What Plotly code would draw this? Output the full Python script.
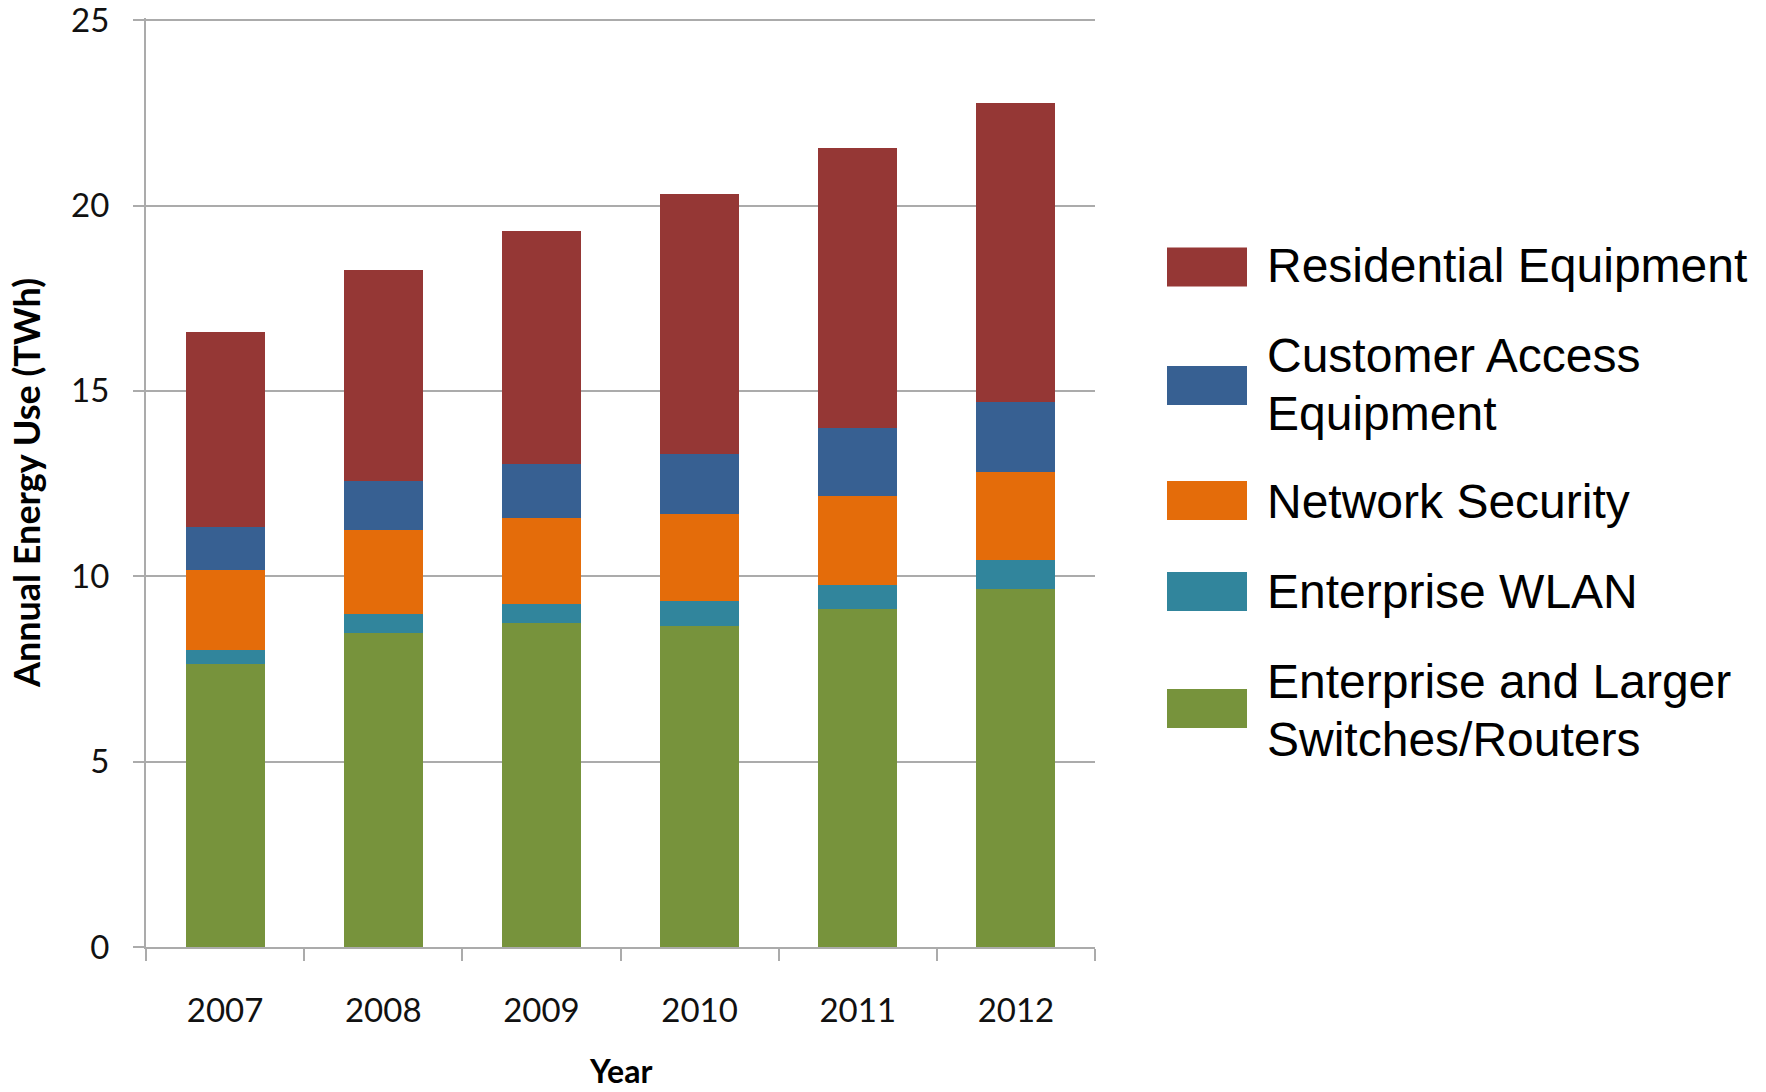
import plotly.graph_objects as go

years = ["2007", "2008", "2009", "2010", "2011", "2012"]
switches_routers = [7.63, 8.47, 8.73, 8.66, 9.13, 9.66]
enterprise_wlan = [0.39, 0.51, 0.52, 0.67, 0.64, 0.77]
network_security = [2.15, 2.27, 2.33, 2.35, 2.40, 2.38]
customer_access = [1.17, 1.31, 1.46, 1.62, 1.84, 1.89]
residential = [5.25, 5.70, 6.27, 7.01, 7.54, 8.07]

series_names = ["Enterprise and Larger Switches/Routers", "Enterprise WLAN",
                "Network Security", "Customer Access Equipment", "Residential Equipment"]
series_values = [switches_routers, enterprise_wlan, network_security, customer_access, residential]
series_colors = ["#77933C", "#31859C", "#E46C0A", "#376092", "#953735"]

y_ticks = [0, 5, 10, 15, 20, 25]
x_title = "Year"
y_title = "Annual Energy Use (TWh)"

# legend (top to bottom), with line breaks as in the reference
legend_lines = [
    ["Residential Equipment"],
    ["Customer Access", "Equipment"],
    ["Network Security"],
    ["Enterprise WLAN"],
    ["Enterprise and Larger", "Switches/Routers"],
]
legend_colors = ["#953735", "#376092", "#E46C0A", "#31859C", "#77933C"]

W, H = 1766, 1092
L, R, T, B = 146, 1095, 18, 947  # plot area in pixels

fig = go.Figure()
for name, vals, col in zip(series_names, series_values, series_colors):
    fig.add_trace(go.Bar(x=years, y=vals, name=name, marker=dict(color=col, line=dict(width=0)),
                         showlegend=False))

def px_x(p):
    return (p - L) / (R - L)

def px_y(p):
    return (B - p) / (B - T)

# custom legend
swatch_centers = [267, 385.5, 500.5, 591.5, 708.5]
line_centers = [[265], [355, 413], [501], [591], [681, 739]]
shapes = []
annotations = []
for lines, col, sc, lc in zip(legend_lines, legend_colors, swatch_centers, line_centers):
    shapes.append(dict(type="rect", xref="paper", yref="paper",
                       x0=px_x(1167), x1=px_x(1247), y0=px_y(sc + 19.5), y1=px_y(sc - 19.5),
                       fillcolor=col, line=dict(width=0)))
    for txt, yc in zip(lines, lc):
        annotations.append(dict(text=txt, xref="paper", yref="paper", x=px_x(1265), y=px_y(yc),
                                xanchor="left", yanchor="middle", showarrow=False,
                                font=dict(family="Liberation Sans, Arial", size=48, color="black")))

# x-axis title
annotations.append(dict(text="<b>%s</b>" % x_title, xref="paper", yref="paper", x=0.5, y=px_y(1091),
                        xanchor="center", yanchor="bottom", showarrow=False, borderpad=0,
                        font=dict(family="Lato", size=32, color="black")))

grid_col = "#ababab"
fig.update_layout(
    width=W, height=H,
    margin=dict(l=L, r=W - R, t=T, b=H - B, pad=0, autoexpand=False),
    barmode="stack", bargap=0.5,
    plot_bgcolor="white", paper_bgcolor="white",
    font=dict(family="Lato, Open Sans, sans-serif", color="black"),
    shapes=shapes, annotations=annotations,
    xaxis=dict(
        type="category", showline=True, linecolor=grid_col, linewidth=2, automargin=False,
        ticks="outside", tickson="boundaries", ticklen=12, tickcolor=grid_col, tickwidth=2,
        tickfont=dict(size=33, family="Lato", color="#111111"), ticklabelstandoff=33,
        showgrid=False,
    ),
    yaxis=dict(
        range=[0, 25.06], tickvals=y_ticks, showline=True, linecolor=grid_col, linewidth=2,
        automargin=False, ticklabeloverflow="allow",
        ticks="outside", ticklen=11, tickcolor=grid_col, tickwidth=2,
        showgrid=True, gridcolor=grid_col, gridwidth=2, zeroline=False,
        tickfont=dict(size=33, family="Lato", color="#111111"), ticklabelstandoff=17,
        title=dict(text="<b>%s</b>" % y_title, font=dict(size=36, family="Lato"), standoff=20),
    ),
)

fig.write_html("out.html")
